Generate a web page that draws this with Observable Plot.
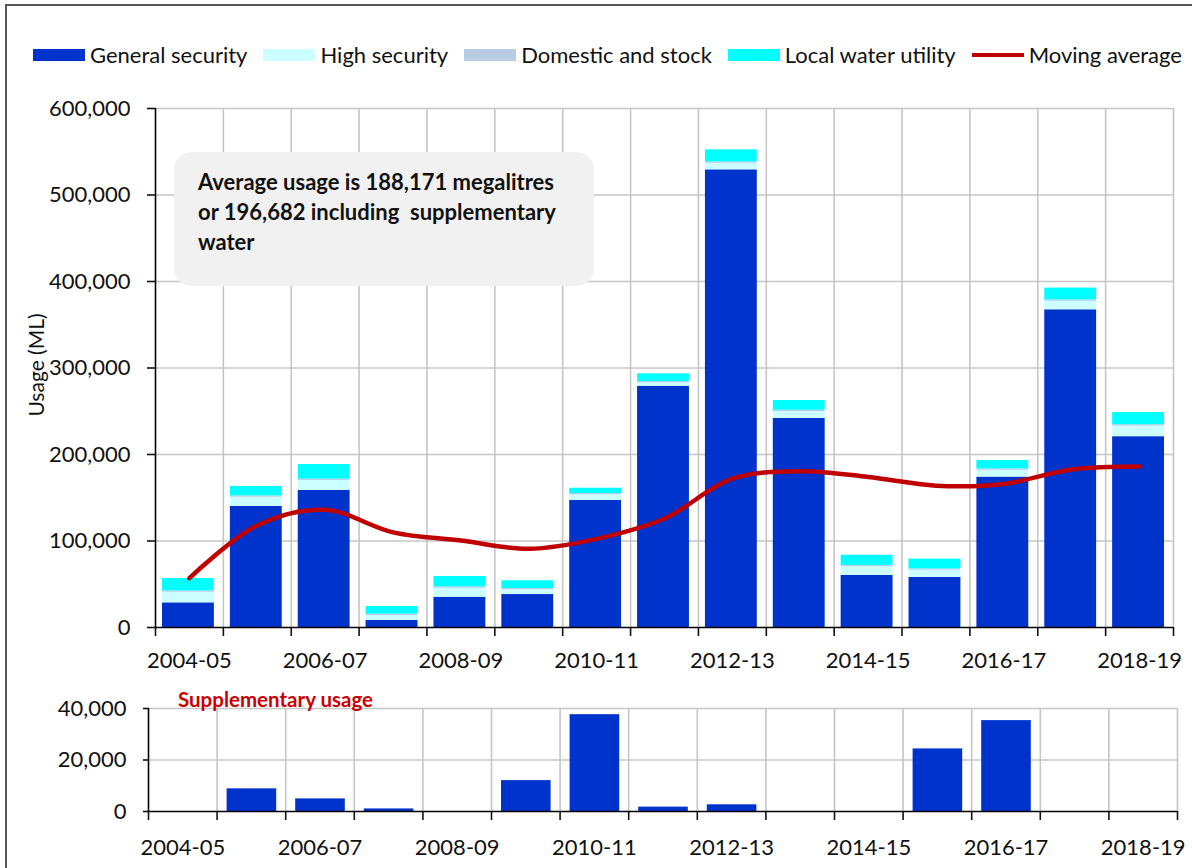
<!DOCTYPE html>
<html>
<head>
<meta charset="utf-8">
<script src="https://cdn.jsdelivr.net/npm/d3@7"></script>
<script src="https://cdn.jsdelivr.net/npm/@observablehq/plot@0.6"></script>
<style>
  body { margin: 0; background: #fff; font-family: Lato, "Liberation Sans", sans-serif; }
  #wrap { position: relative; width: 1192px; height: 868px; overflow: hidden; background: #fff; }
  #frame { position: absolute; left: 5px; top: 4px; width: 1300px; height: 1000px; border-left: 2px solid #555; border-top: 2px solid #555; }
  #legend { position: absolute; left: 33px; top: 41px; display: flex; align-items: center; gap: 16px; font-size: 22px; color: #111; white-space: nowrap; }
  .item { display: flex; align-items: center; gap: 5px; }
  .sw { width: 52px; height: 12px; }
  .ln { width: 52px; height: 4px; background: #c00000; }
  #note { position: absolute; left: 174px; top: 152px; width: 420px; height: 134px; background: #f1f1f1; border-radius: 18px; box-sizing: border-box; padding: 15px 0 0 24px; font-weight: bold; font-size: 22px; line-height: 30px; color: #111; white-space: nowrap; }
  #top { position: absolute; left: 0; top: 0; }
  #bottom { position: absolute; left: 0; top: 680px; }
  #supp { position: absolute; left: 178px; top: 687px; color: #cc0000; font-weight: bold; font-size: 20.5px; }
</style>
</head>
<body>
<div id="wrap">
  <div id="frame"></div>
  <div id="top"></div>
  <div id="bottom"></div>
  <div id="legend"></div>
  <div id="note">Average usage is 188,171 megalitres<br>or 196,682 including&nbsp; supplementary<br>water</div>
  <div id="supp">Supplementary usage</div>
</div>
<script>
const years = ["2004-05","2005-06","2006-07","2007-08","2008-09","2009-10","2010-11","2011-12","2012-13","2013-14","2014-15","2015-16","2016-17","2017-18","2018-19"];
const labelYears = ["2004-05","2006-07","2008-09","2010-11","2012-13","2014-15","2016-17","2018-19"];
const generalSecurity   = [28500,140000,158400,8100,35000,38100,146800,278900,529100,241700,60300,57900,173900,367300,220600];
const highSecurity      = [12300,10600,11600,5800,10400,5500,6600,3900,7600,8000,10000,8300,7900,9900,12300];
const domesticStock     = [1500,1500,1500,1500,1500,1500,1500,1500,1500,1500,1500,1500,1500,1500,1500];
const localWaterUtility = [14300,10900,16900,8900,12100,8900,6100,9000,14000,11200,11700,11400,9700,13700,14100];
const movingAverage     = [57000,118000,136000,110000,100500,91000,102500,126000,172000,180700,174000,164000,166000,182600,186000];
const supplementary     = [0,8800,4900,1000,0,12000,37600,1700,2600,0,0,24300,35300,0,0];
const seriesNames  = ["General security","High security","Domestic and stock","Local water utility"];
const seriesColors = ["#0033cc","#ccffff","#b8cce4","#00ffff"];
const lineName = "Moving average";
const lineColor = "#c00000";
const yTicksTop = [0,100000,200000,300000,400000,500000,600000];
const yTicksBottom = [0,20000,40000];

const seriesValues = [generalSecurity, highSecurity, domesticStock, localWaterUtility];
const rows = seriesNames.flatMap((s, k) => seriesValues[k].map((v, i) => ({i, series: s, value: v})));
const boundaries = d3.range(years.length + 1);
const labelPos = labelYears.map(y => years.indexOf(y) + 0.5);
const fmt = d3.format(",");
const gridColor = "#c6c6c6";

const topPlot = Plot.plot({
  width: 1192, height: 680,
  marginLeft: 155, marginRight: 19, marginTop: 108, marginBottom: 53,
  style: {fontFamily: "Lato", fontSize: "22px", color: "#111", background: "transparent", overflow: "visible"},
  x: {domain: [0, years.length]},
  y: {domain: [yTicksTop[0], yTicksTop[yTicksTop.length - 1]]},
  color: {domain: seriesNames, range: seriesColors},
  marks: [
    Plot.ruleY(yTicksTop.slice(1), {stroke: gridColor, strokeWidth: 1.6}),
    Plot.ruleX(boundaries.slice(1), {stroke: gridColor, strokeWidth: 1.6}),
    Plot.rectY(rows, {x: "i", interval: 1, y: "value", fill: "series", insetLeft: 7, insetRight: 9}),
    Plot.line(movingAverage, {x: (d, i) => i + 0.5, y: d => d, curve: "catmull-rom", stroke: lineColor, strokeWidth: 4.5}),
    Plot.ruleX([0], {stroke: "#000", strokeWidth: 1.6}),
    Plot.ruleY([0], {stroke: "#000", strokeWidth: 1.6}),
    Plot.axisY(yTicksTop, {tickSize: 8, tickPadding: 17, tickFormat: fmt, label: null, strokeWidth: 1.6}),
    Plot.axisX(boundaries, {tickSize: 9, tickFormat: () => "", label: null, strokeWidth: 1.6}),
    Plot.axisX(labelPos, {tickSize: 0, tickPadding: 25, tickFormat: d => years[d - 0.5], label: null}),
    Plot.text(["Usage (ML)"], {frameAnchor: "left", dx: -118, dy: -3, rotate: -90, textAnchor: "middle", fontSize: 21})
  ]
});
document.getElementById("top").appendChild(topPlot);

const bottomPlot = Plot.plot({
  width: 1192, height: 188,
  marginLeft: 148, marginRight: 15, marginTop: 28, marginBottom: 57,
  style: {fontFamily: "Lato", fontSize: "22px", color: "#111", background: "transparent", overflow: "visible"},
  x: {domain: [0, years.length]},
  y: {domain: [yTicksBottom[0], yTicksBottom[yTicksBottom.length - 1]]},
  marks: [
    Plot.ruleY(yTicksBottom.slice(1), {stroke: gridColor, strokeWidth: 1.6}),
    Plot.ruleX(boundaries.slice(1), {stroke: gridColor, strokeWidth: 1.6}),
    Plot.rectY(supplementary, {x: (d, i) => i, interval: 1, y: d => d, fill: "#0033cc", insetLeft: 10, insetRight: 9}),
    Plot.ruleX([0], {stroke: "#000", strokeWidth: 1.6}),
    Plot.ruleY([0], {stroke: "#000", strokeWidth: 1.6}),
    Plot.axisY(yTicksBottom, {tickSize: 5, tickPadding: 17, tickFormat: fmt, label: null, strokeWidth: 1.6}),
    Plot.axisX(boundaries, {tickSize: 9, tickFormat: () => "", label: null, strokeWidth: 1.6}),
    Plot.axisX(labelPos, {tickSize: 0, tickPadding: 28, tickFormat: d => years[d - 0.5], label: null})
  ]
});
document.getElementById("bottom").appendChild(bottomPlot);

const legend = document.getElementById("legend");
seriesNames.forEach((s, k) => {
  const it = document.createElement("div"); it.className = "item";
  const sw = document.createElement("div"); sw.className = "sw"; sw.style.background = seriesColors[k];
  const t = document.createElement("span"); t.textContent = s;
  it.append(sw, t); legend.appendChild(it);
});
{
  const it = document.createElement("div"); it.className = "item";
  const ln = document.createElement("div"); ln.className = "ln"; ln.style.background = lineColor;
  const t = document.createElement("span"); t.textContent = lineName;
  it.append(ln, t); legend.appendChild(it);
}
</script>
</body>
</html>
